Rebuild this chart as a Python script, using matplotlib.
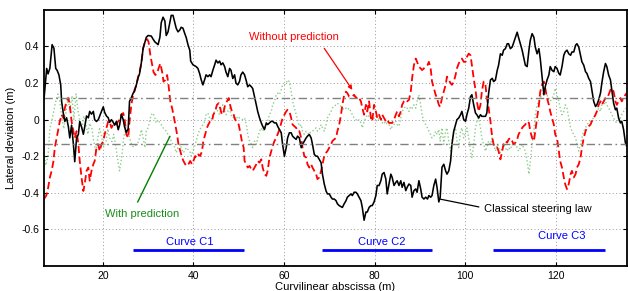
import matplotlib
matplotlib.use("Agg")
import matplotlib.pyplot as plt

plt.rcParams["font.family"] = ["Liberation Sans", "DejaVu Sans"]

# Classical steering law (black)
classic_x = [7.0, 7.6, 7.9, 8.3, 8.8, 9.2, 9.6, 9.9, 10.3, 10.7, 10.9, 11.3, 11.6, 12.0, 12.4, 12.7,
             13.1, 13.5, 13.8, 14.2, 14.6, 14.9, 15.3, 15.7, 16.0, 16.4, 16.8, 17.1, 17.5, 17.9, 18.2,
             18.6, 19.0, 19.3, 19.7, 20.1, 20.4, 20.8, 21.2, 21.5, 21.9, 22.3, 22.6, 23.0, 23.4, 23.7,
             24.1, 24.5, 24.8, 25.2, 25.6, 25.9, 26.3, 26.7, 27.0, 27.4, 27.8, 28.1, 28.5, 28.9, 29.6,
             30.0, 30.7, 31.1, 31.5, 32.2, 32.6, 32.9, 33.3, 33.7, 34.0, 34.4, 34.8, 35.1, 35.5, 35.9,
             36.2, 36.6, 37.0, 37.3, 37.7, 38.1, 38.4, 38.8, 39.2, 39.4, 39.9, 40.6, 41.0, 41.4, 41.7,
             42.1, 42.5, 42.8, 43.2, 43.6, 43.9, 44.3, 44.7, 45.0, 45.4, 45.8, 46.1, 46.5, 46.9, 47.2,
             47.6, 48.0, 48.3, 48.7, 49.1, 49.4, 49.8, 50.2, 50.5, 50.9, 51.3, 51.7, 52.0, 52.4, 52.8,
             53.1, 53.5, 53.9, 54.2, 54.6, 55.0, 55.3, 55.7, 56.1, 56.4, 56.8, 57.2, 57.5, 57.9, 58.3,
             58.6, 59.0, 59.4, 59.7, 60.1, 60.5, 60.8, 61.2, 61.6, 61.9, 62.3, 62.7, 63.0, 63.4, 63.8,
             64.1, 64.5, 64.9, 65.2, 65.6, 66.0, 66.3, 66.7, 67.1, 67.4, 67.8, 68.2, 68.5, 68.9, 69.3,
             69.6, 70.0, 70.4, 70.7, 71.1, 71.5, 71.8, 72.2, 72.9, 73.3, 73.7, 74.0, 74.4, 74.8, 75.1,
             75.5, 75.9, 76.2, 76.6, 77.0, 77.3, 77.7, 78.1, 78.4, 78.8, 79.2, 79.5, 79.9, 80.3, 80.6,
             81.0, 81.4, 81.7, 82.1, 82.5, 82.8, 83.2, 83.6, 83.9, 84.3, 84.7, 85.0, 85.4, 85.8, 86.1,
             86.5, 86.9, 87.2, 87.6, 88.0, 88.3, 88.7, 89.1, 89.4, 89.8, 90.2, 90.5, 90.9, 91.3, 91.7,
             92.0, 92.4, 92.7, 93.1, 93.5, 93.8, 94.2, 94.5, 94.9, 95.3, 95.7, 96.0, 96.4, 96.8, 97.1,
             97.5, 97.9, 98.2, 98.6, 99.0, 99.3, 99.7, 100.1, 100.4, 100.8, 101.2, 101.5, 101.9, 102.3,
             102.6, 103.0, 103.4, 103.7, 104.5, 104.8, 105.2, 105.6, 106.0, 106.3, 106.7, 107.1, 107.4,
             107.8, 108.2, 108.5, 108.9, 109.3, 109.6, 110.0, 110.4, 110.9, 111.5, 111.8, 112.6, 113.3,
             113.7, 114.1, 114.4, 114.8, 115.2, 115.5, 115.9, 116.3, 116.6, 117.0, 117.4, 117.7, 118.1,
             118.5, 118.8, 119.2, 119.6, 119.9, 120.3, 120.7, 121.0, 121.4, 121.8, 122.1, 122.5, 122.9,
             123.3, 123.6, 124.0, 124.4, 124.7, 125.1, 125.5, 125.8, 126.2, 126.6, 126.9, 127.3, 127.7,
             128.0, 128.4, 128.8, 129.1, 129.5, 129.9, 130.2, 130.6, 131.0, 131.3, 131.7, 132.1, 132.4,
             132.8, 133.2, 133.5, 133.9, 134.3, 134.6, 135.0, 135.4, 135.7]
classic_y = [0.11, 0.28, 0.25, 0.28, 0.41, 0.39, 0.28, 0.27, 0.245, 0.19, 0.10, 0.03, -0.01, 0.01, -0.04, -0.10,
             -0.03, -0.135, -0.23, -0.10, -0.08, -0.01, -0.04, -0.08, -0.04, 0.02, 0.01, 0.045, 0.03, 0.045, 0.0,
             -0.01, 0.0, 0.02, 0.045, 0.07, 0.04, 0.02, 0.01, -0.015, 0.0, -0.015, -0.03, -0.01, -0.055, -0.03,
             0.03, 0.0, -0.04, -0.07, -0.05, 0.10, 0.12, 0.145, 0.155, 0.19, 0.23, 0.25, 0.31, 0.39, 0.45,
             0.46, 0.457, 0.44, 0.425, 0.41, 0.45, 0.53, 0.56, 0.54, 0.46, 0.48, 0.53, 0.57, 0.57, 0.53,
             0.50, 0.48, 0.49, 0.505, 0.50, 0.47, 0.45, 0.41, 0.38, 0.32, 0.30, 0.29, 0.28, 0.25, 0.22,
             0.19, 0.22, 0.245, 0.235, 0.245, 0.235, 0.27, 0.30, 0.325, 0.31, 0.32, 0.30, 0.31, 0.29, 0.26,
             0.235, 0.28, 0.27, 0.225, 0.245, 0.20, 0.19, 0.21, 0.245, 0.26, 0.245, 0.21, 0.18, 0.19, 0.18,
             0.17, 0.126, 0.08, 0.045, 0.01, -0.018, -0.036, -0.054, -0.018, -0.027, -0.018, -0.009, -0.009, -0.018, -0.018,
             -0.036, -0.054, -0.072, -0.135, -0.20, -0.153, -0.10, -0.072, -0.072, -0.09, -0.10, -0.108, -0.09, -0.10, -0.153,
             -0.135, -0.117, -0.10, -0.09, -0.081, -0.10, -0.135, -0.19, -0.20, -0.20, -0.217, -0.235, -0.298, -0.352, -0.39,
             -0.406, -0.406, -0.424, -0.434, -0.434, -0.443, -0.46, -0.47, -0.48, -0.46, -0.443, -0.424, -0.415, -0.406, -0.415,
             -0.397, -0.397, -0.406, -0.424, -0.443, -0.48, -0.55, -0.505, -0.505, -0.48, -0.47, -0.47, -0.45, -0.415, -0.36,
             -0.36, -0.334, -0.298, -0.289, -0.325, -0.406, -0.352, -0.298, -0.316, -0.36, -0.343, -0.334, -0.36, -0.334, -0.37,
             -0.343, -0.388, -0.37, -0.352, -0.36, -0.424, -0.388, -0.379, -0.397, -0.334, -0.379, -0.424, -0.434, -0.424, -0.434,
             -0.415, -0.424, -0.415, -0.36, -0.325, -0.37, -0.45, -0.424, -0.26, -0.244, -0.28, -0.298, -0.28, -0.226, -0.135,
             -0.063, -0.027, 0.0, 0.009, 0.027, 0.045, 0.0, -0.009, 0.027, 0.063, 0.126, 0.136, 0.081, 0.036,
             0.027, 0.009, 0.027, 0.018, 0.018, 0.036, 0.145, 0.217, 0.226, 0.208, 0.217, 0.27, 0.298,
             0.36, 0.352, 0.38, 0.388, 0.415, 0.415, 0.388, 0.397, 0.434, 0.478, 0.45, 0.38, 0.298,
             0.29, 0.38, 0.434, 0.47, 0.45, 0.397, 0.36, 0.388, 0.334, 0.235, 0.136, 0.18, 0.217,
             0.244, 0.29, 0.27, 0.262, 0.29, 0.28, 0.253, 0.244, 0.29, 0.352, 0.37, 0.38, 0.36,
             0.352, 0.37, 0.37, 0.407, 0.415, 0.397, 0.352, 0.316, 0.298, 0.262, 0.253, 0.226, 0.208,
             0.163, 0.10, 0.072, 0.081, 0.108, 0.145, 0.20, 0.262, 0.307, 0.29, 0.244, 0.217, 0.163,
             0.09, 0.054, 0.063, 0.009, -0.018, -0.009, -0.054, -0.126, -0.145]

# Without prediction (red dashed)
nopred_x = [7.0, 7.5, 7.8, 8.3, 8.7, 9.1, 9.4, 9.8, 10.2, 10.5, 10.9, 11.3, 11.6, 12.0, 12.4, 12.7,
            13.1, 13.5, 13.8, 14.2, 14.6, 14.9, 15.3, 15.7, 16.0, 16.4, 16.8, 17.1, 17.5, 17.9, 18.2,
            18.6, 19.0, 19.3, 19.7, 20.1, 20.4, 20.8, 21.2, 21.5, 21.9, 22.3, 22.6, 23.0, 23.4, 23.7,
            24.1, 24.5, 24.8, 25.2, 25.6, 25.9, 26.3, 26.7, 27.0, 27.4, 27.8, 28.1, 28.5, 28.9, 29.3,
            29.8, 30.1, 30.5, 30.9, 31.2, 31.6, 32.0, 32.3, 32.7, 33.1, 33.4, 33.8, 34.2, 34.5, 34.9,
            35.3, 35.6, 36.0, 36.4, 36.7, 37.1, 37.5, 37.8, 38.2, 38.6, 38.9, 39.3, 39.7, 40.0, 40.4,
            40.8, 41.1, 41.5, 41.9, 42.2, 42.6, 43.0, 43.3, 43.7, 44.1, 44.4, 44.8, 45.2, 45.6, 45.9,
            46.3, 46.7, 47.0, 47.4, 47.8, 48.1, 48.5, 48.9, 49.2, 49.6, 50.0, 50.3, 50.7, 51.1, 51.3,
            51.7, 52.0, 52.4, 52.8, 53.1, 53.5, 53.9, 54.2, 54.6, 55.0, 55.3, 55.7, 56.1, 56.4, 56.8,
            57.2, 57.5, 57.9, 58.3, 58.6, 59.0, 59.4, 59.7, 60.1, 60.5, 60.8, 61.2, 61.6, 61.9, 62.3,
            62.7, 63.0, 63.4, 63.8, 64.1, 64.5, 64.9, 65.2, 65.6, 66.0, 66.3, 66.7, 67.1, 67.4, 67.8,
            68.2, 68.5, 68.9, 69.3, 69.6, 70.0, 70.4, 70.7, 71.1, 71.5, 71.8, 72.2, 72.6, 72.9, 73.3,
            73.7, 74.0, 74.4, 75.1, 75.5, 75.9, 76.2, 76.6, 77.0, 77.3, 77.7, 78.1, 78.4, 78.8, 79.2,
            79.5, 79.9, 80.3, 80.6, 81.0, 81.4, 81.7, 82.1, 82.5, 82.8, 83.2, 83.9, 84.3, 84.7, 85.0,
            85.4, 85.8, 86.1, 86.5, 86.9, 87.2, 87.6, 88.0, 88.3, 88.7, 89.1, 89.4, 89.8, 90.2, 90.5,
            90.9, 91.3, 91.7, 92.0, 92.4, 92.7, 93.1, 93.5, 93.8, 94.2, 94.5, 94.9, 95.3, 95.7, 96.0,
            96.4, 96.8, 97.1, 97.5, 97.9, 98.2, 98.6, 99.0, 99.3, 99.7, 100.1, 100.4, 100.8, 101.2, 101.5,
            101.9, 102.3, 102.6, 103.0, 103.4, 103.7, 104.1, 104.5, 104.8, 105.2, 105.6, 106.0, 106.3, 106.7,
            107.1, 107.4, 107.8, 108.2, 108.5, 108.9, 109.3, 109.6, 110.0, 110.4, 110.7, 111.1, 111.5, 111.8,
            112.2, 112.6, 112.9, 113.3, 113.7, 114.1, 114.4, 114.8, 115.2, 115.5, 115.9, 116.3, 116.6, 117.0,
            117.4, 117.7, 118.1, 118.5, 118.8, 119.2, 119.6, 119.9, 120.3, 120.7, 121.0, 121.4, 121.8, 122.1,
            122.5, 122.9, 123.3, 123.6, 124.0, 124.4, 124.7, 125.1, 125.5, 125.8, 126.2, 126.6, 126.9, 127.3,
            127.7, 128.0, 128.4, 128.8, 129.1, 129.5, 129.9, 130.2, 130.6, 131.0, 131.3, 131.7, 132.1, 132.4,
            132.8, 133.2, 133.5, 133.9, 134.3, 134.6, 135.0, 135.4, 135.7]
nopred_y = [-0.434, -0.415, -0.39, -0.316, -0.28, -0.226, -0.153, -0.1, -0.045, -0.009, 0.027, 0.009, 0.063, 0.10, 0.118, 0.081,
            -0.009, -0.063, -0.1, -0.063, -0.135, -0.226, -0.316, -0.39, -0.352, -0.28, -0.262, -0.334, -0.28, -0.244, -0.226,
            -0.153, -0.135, -0.172, -0.135, -0.117, -0.081, -0.045, -0.009, -0.009, -0.045, -0.027, -0.018, -0.027, -0.009, 0.0,
            0.027, 0.036, 0.009, -0.081, -0.1, -0.009, 0.081, 0.136, 0.163, 0.19, 0.235, 0.26, 0.307, 0.39, 0.425,
            0.44, 0.425, 0.352, 0.298, 0.26, 0.244, 0.253, 0.28, 0.307, 0.26, 0.208, 0.217, 0.244, 0.19, 0.10,
            0.063, 0.027, -0.027, -0.081, -0.135, -0.172, -0.208, -0.226, -0.244, -0.253, -0.244, -0.226, -0.244, -0.226, -0.199,
            -0.208, -0.19, -0.199, -0.172, -0.117, -0.081, -0.045, -0.027, -0.009, -0.009, 0.027, 0.045, 0.081, 0.09, 0.063,
            0.027, 0.045, 0.081, 0.10, 0.118, 0.081, 0.045, 0.027, 0.0, -0.009, -0.027, -0.063, -0.117, -0.153, -0.226,
            -0.244, -0.262, -0.253, -0.271, -0.28, -0.262, -0.244, -0.226, -0.235, -0.217, -0.262, -0.298, -0.307, -0.28, -0.208,
            -0.172, -0.145, -0.117, -0.1, -0.081, -0.054, -0.018, 0.009, 0.027, 0.045, 0.054, 0.045, 0.009, -0.027, -0.036,
            -0.045, -0.063, -0.063, -0.1, -0.153, -0.199, -0.208, -0.244, -0.262, -0.244, -0.262, -0.28, -0.298, -0.325, -0.316,
            -0.28, -0.244, -0.199, -0.181, -0.172, -0.153, -0.135, -0.117, -0.108, -0.1, -0.063, -0.027, 0.027, 0.081, 0.136,
            0.153, 0.145, 0.126, 0.126, 0.136, 0.118, 0.126, 0.118, 0.10, 0.063, 0.027, 0.081, 0.045, 0.10, 0.009,
            -0.009, 0.081, 0.045, 0.009, 0.027, 0.0, 0.027, 0.009, -0.009, 0.0, -0.018, -0.018, 0.0, 0.027, 0.045,
            0.018, 0.045, 0.081, 0.10, 0.108, 0.10, 0.108, 0.153, 0.226, 0.298, 0.334, 0.316, 0.289, 0.28, 0.271,
            0.28, 0.289, 0.298, 0.316, 0.28, 0.208, 0.172, 0.136, 0.118, 0.081, 0.07, 0.118, 0.153, 0.19, 0.235,
            0.217, 0.199, 0.19, 0.208, 0.244, 0.28, 0.307, 0.325, 0.334, 0.316, 0.316, 0.343, 0.361, 0.352, 0.298,
            0.226, 0.163, 0.10, 0.045, 0.081, 0.153, 0.208, 0.19, 0.118, 0.063, -0.009, -0.1, -0.135, -0.153,
            -0.153, -0.172, -0.217, -0.172, -0.135, -0.117, -0.126, -0.108, -0.1, -0.117, -0.135, -0.126, -0.108, -0.081,
            -0.063, -0.045, -0.036, -0.027, -0.009, -0.018, -0.063, -0.1, -0.117, -0.063, 0.009, 0.081, 0.153, 0.19,
            0.208, 0.172, 0.118, 0.081, 0.045, 0.009, -0.027, -0.081, -0.1, -0.172, -0.226, -0.262, -0.316, -0.352,
            -0.38, -0.352, -0.298, -0.28, -0.316, -0.298, -0.262, -0.244, -0.208, -0.153, -0.1, -0.063, -0.045, -0.036,
            -0.027, -0.009, 0.009, 0.027, 0.045, 0.081, 0.10, 0.081, 0.10, 0.118, 0.118, 0.136, 0.163, 0.172,
            0.153, 0.10, 0.081, 0.10, 0.118, 0.10, 0.118, 0.136, 0.145]

# With prediction (green dotted)
pred_x = [7.0, 7.4, 7.9, 8.3, 8.8, 9.2, 9.6, 10.1, 10.5, 11.0, 11.4, 11.9, 12.3, 12.7, 13.2, 13.6,
          14.1, 14.5, 14.9, 15.4, 15.8, 16.3, 16.7, 17.1, 17.6, 18.0, 18.5, 18.9, 19.3, 19.8, 20.2,
          20.7, 21.1, 21.5, 22.0, 22.4, 22.9, 23.3, 23.7, 24.2, 24.6, 25.1, 25.5, 25.9, 26.4, 26.8,
          27.3, 27.7, 28.1, 28.5, 28.9, 29.3, 29.6, 30.0, 30.4, 30.7, 31.1, 31.5, 31.8, 32.2, 32.6,
          32.9, 33.3, 33.7, 34.0, 34.4, 34.8, 35.1, 35.5, 35.9, 36.2, 36.6, 37.0, 37.3, 37.7, 38.1,
          38.4, 38.8, 39.2, 39.5, 39.9, 40.3, 40.6, 41.0, 41.4, 41.7, 42.1, 42.5, 42.8, 43.2, 43.6,
          43.9, 44.3, 44.7, 45.0, 45.4, 45.8, 46.1, 46.5, 46.9, 47.2, 47.6, 48.0, 48.3, 48.7, 49.1,
          49.4, 49.8, 50.2, 50.9, 51.3, 51.7, 52.0, 52.4, 52.8, 53.1, 53.5, 53.9, 54.2, 54.6, 55.0,
          55.3, 55.7, 56.1, 56.4, 56.8, 57.2, 57.5, 57.9, 58.3, 58.6, 59.0, 59.4, 59.7, 60.1, 60.5,
          60.8, 61.2, 61.6, 61.9, 62.3, 62.7, 63.0, 63.4, 63.8, 64.1, 64.5, 64.9, 65.2, 65.6, 66.0,
          66.3, 66.7, 67.1, 67.4, 67.8, 68.2, 68.5, 68.9, 69.3, 69.6, 70.0, 70.4, 70.7, 71.1, 71.5,
          71.8, 72.2, 72.6, 72.9, 73.3, 73.7, 74.0, 74.4, 74.8, 75.1, 75.5, 75.9, 76.2, 76.6, 77.0,
          77.3, 77.7, 78.1, 78.4, 78.8, 79.2, 79.5, 79.9, 80.3, 80.6, 81.0, 81.4, 81.7, 82.1, 82.5,
          82.8, 83.2, 83.6, 83.9, 84.3, 84.7, 85.0, 85.4, 85.8, 86.1, 86.5, 86.9, 87.2, 87.6, 88.0,
          88.3, 88.7, 89.1, 89.4, 89.8, 90.2, 90.5, 90.9, 91.3, 91.7, 92.0, 92.4, 92.7, 93.1, 93.5,
          93.8, 94.2, 94.5, 94.9, 95.3, 95.7, 96.0, 96.4, 96.8, 97.1, 97.5, 97.9, 98.2, 98.6, 99.0,
          99.3, 99.7, 100.1, 100.4, 100.8, 101.2, 101.5, 101.9, 102.3, 102.6, 103.0, 103.4, 103.7, 104.1,
          104.5, 104.8, 105.2, 105.6, 106.0, 106.3, 106.7, 107.1, 107.4, 107.8, 108.2, 108.5, 108.9, 109.3,
          109.6, 110.0, 110.4, 110.7, 111.1, 111.5, 111.8, 112.2, 112.6, 112.9, 113.3, 113.7, 114.1, 114.4,
          114.8, 115.2, 115.5, 115.9, 116.3, 116.6, 117.0, 117.4, 117.7, 118.1, 118.5, 118.8, 119.2, 119.6,
          119.9, 120.3, 120.7, 121.0, 121.4, 121.8, 122.1, 122.5, 122.9, 123.3, 123.6, 124.0, 124.4, 124.7,
          125.1, 125.5, 125.8, 126.2, 126.6, 126.9, 127.3, 127.7, 128.0, 128.4, 128.8, 129.1, 129.5, 129.9,
          130.2, 130.6, 131.0, 131.3, 131.7, 132.1, 132.4, 132.8, 133.2, 133.5, 133.9, 134.3, 134.6, 135.0,
          135.4]
pred_y = [-0.18, -0.25, -0.2, -0.05, 0.0, 0.05, 0.1, 0.14, 0.10, 0.0, -0.05, 0.05, 0.12, 0.05, 0.13, 0.0,
          0.14, 0.05, 0.0, -0.05, 0.02, -0.03, -0.08, -0.02, -0.05, -0.12, -0.18, -0.10, -0.05, -0.1, -0.15,
          -0.12, -0.05, -0.1, -0.12, -0.08, -0.15, -0.22, -0.28, -0.2, -0.1, -0.04, -0.05, -0.1, -0.14, -0.15,
          -0.14, -0.13, -0.10, -0.054, -0.1, -0.153, -0.063, -0.045, 0.0, 0.027, 0.036, 0.009, -0.018, 0.0, -0.018,
          -0.027, -0.045, -0.054, -0.063, -0.081, -0.1, -0.117, -0.135, -0.153, -0.181, -0.153, -0.135, -0.153, -0.181, -0.172,
          -0.153, -0.163, -0.172, -0.199, -0.172, -0.145, -0.117, -0.081, -0.054, -0.045, -0.027, -0.009, 0.027, 0.036, 0.009,
          0.0, 0.027, 0.045, 0.063, 0.045, 0.027, 0.063, 0.081, 0.045, 0.027, 0.045, 0.063, 0.027, 0.009, 0.018,
          0.0, 0.018, 0.009, 0.0, 0.009, -0.027, -0.081, -0.117, -0.135, -0.153, -0.117, -0.135, -0.1, -0.063, -0.045,
          -0.063, -0.045, -0.027, -0.009, 0.027, 0.045, 0.081, 0.10, 0.136, 0.145, 0.136, 0.163, 0.19, 0.19, 0.199,
          0.217, 0.208, 0.153, 0.10, 0.063, 0.027, 0.0, -0.036, -0.027, -0.063, -0.081, -0.063, -0.072, -0.081, -0.063,
          -0.063, -0.054, -0.045, -0.063, -0.054, -0.027, -0.045, -0.063, -0.027, 0.009, 0.027, 0.045, 0.063, 0.072, 0.081,
          0.09, 0.081, 0.072, 0.063, 0.054, 0.063, 0.054, 0.063, 0.045, 0.027, 0.009, 0.0, -0.009, 0.0, -0.018,
          -0.045, -0.009, 0.009, 0.027, 0.018, 0.009, 0.0, 0.009, 0.0, -0.009, 0.009, 0.0, -0.018, -0.009, -0.027,
          -0.018, -0.027, -0.054, -0.036, -0.027, -0.009, -0.027, -0.036, 0.009, 0.045, 0.063, 0.072, 0.063, 0.045, 0.072,
          0.063, 0.081, 0.063, 0.10, 0.136, 0.081, 0.027, -0.009, -0.027, -0.045, -0.063, -0.081, -0.1, -0.09, -0.063,
          -0.081, -0.054, -0.117, -0.045, -0.135, -0.063, -0.045, -0.117, -0.172, -0.117, -0.063, -0.045, -0.117, -0.153, -0.063,
          -0.045, -0.1, -0.072, -0.045, -0.1, -0.172, -0.208, -0.135, -0.045, -0.009, 0.009, -0.045, -0.1, -0.135,
          -0.172, -0.153, -0.117, -0.135, -0.1, -0.135, -0.172, -0.135, -0.153, -0.181, -0.153, -0.135, -0.153, -0.172,
          -0.153, -0.163, -0.135, -0.145, -0.135, -0.153, -0.172, -0.153, -0.135, -0.153, -0.172, -0.226, -0.298, -0.226,
          -0.135, -0.063, 0.027, 0.081, 0.10, 0.118, 0.136, 0.153, 0.163, 0.136, 0.108, 0.10, 0.118, 0.136,
          0.172, 0.136, 0.10, 0.063, 0.027, 0.045, 0.081, 0.063, 0.009, -0.045, -0.063, -0.081, -0.1, -0.135,
          -0.172, -0.135, -0.1, -0.063, -0.045, -0.027, -0.018, -0.009, 0.0, 0.009, 0.027, 0.045, 0.063, 0.045,
          0.081, 0.081, 0.10, 0.081, 0.063, 0.045, 0.027, 0.009, -0.009, -0.018, 0.0, 0.009, 0.027, 0.045,
          0.063]

# Tolerance band and curve segments
band = [0.12, -0.135]
curve_names = ["Curve C1", "Curve C2", "Curve C3"]
curve_start = [26.6, 68.4, 106.2]
curve_end = [51.2, 92.8, 130.8]
curve_label_x = [39.2, 81.5, 121.3]
curve_label_y = [-0.667, -0.667, -0.634]

fig = plt.figure(figsize=(6.28, 2.91), dpi=100)
ax = fig.add_axes([0.070, 0.086, 0.928, 0.880])

ax.plot(pred_x, pred_y, color=(0.55, 0.8, 0.55), linestyle=":", linewidth=1.0)
ax.plot(nopred_x, nopred_y, color="red", linestyle=(0, (4, 2)), linewidth=1.3)
ax.plot(classic_x, classic_y, color="black", linewidth=1.15)

for b in band:
    ax.axhline(b, color="0.5", linestyle=(0, (6, 2.5, 1.2, 2.5)), linewidth=1.0)

for name, x0, x1, lx, ly in zip(curve_names, curve_start, curve_end, curve_label_x, curve_label_y):
    ax.plot([x0, x1], [-0.71, -0.71], color="blue", linewidth=2.0, solid_capstyle="butt")
    ax.text(lx, ly, name, color="blue", fontsize=8, ha="center", va="center")

# annotations
ax.text(62.3, 0.45, "Without prediction", color="red", fontsize=8, ha="center", va="center")
ax.annotate("", xy=(75.1, 0.163), xytext=(68.9, 0.39),
            arrowprops=dict(arrowstyle="-|>", color="red", lw=0.9,
                            mutation_scale=6, shrinkA=0, shrinkB=0))
ax.text(28.6, -0.515, "With prediction", color=(0.1, 0.55, 0.1), fontsize=8,
        ha="center", va="center")
ax.plot([27.7, 34.8], [-0.45, -0.092], color="green", linewidth=1.0)
ax.text(104.1, -0.49, "Classical steering law", color="black", fontsize=8,
        ha="left", va="center")
ax.plot([103.0, 94.4], [-0.477, -0.434], color="black", linewidth=0.9)

ax.set_xlim(7, 135.7)
ax.set_ylim(-0.8, 0.6)
ax.set_xticks([20, 40, 60, 80, 100, 120])
ax.set_yticks([-0.6, -0.4, -0.2, 0, 0.2, 0.4])
ax.set_yticklabels(["-0.6", "-0.4", "-0.2", "0", "0.2", "0.4"])
ax.grid(True, color="0.6", linestyle=(0, (1, 2.5)), linewidth=0.7)
ax.tick_params(direction="in", top=True, right=True, labelsize=7.5, length=3, width=0.8)
for s in ax.spines.values():
    s.set_linewidth(1.3)
ax.set_xlabel("Curvilinear abscissa (m)", fontsize=8, labelpad=1)
ax.set_ylabel("Lateral deviation (m)", fontsize=8, labelpad=4)

fig.savefig("out.png", dpi=100)
